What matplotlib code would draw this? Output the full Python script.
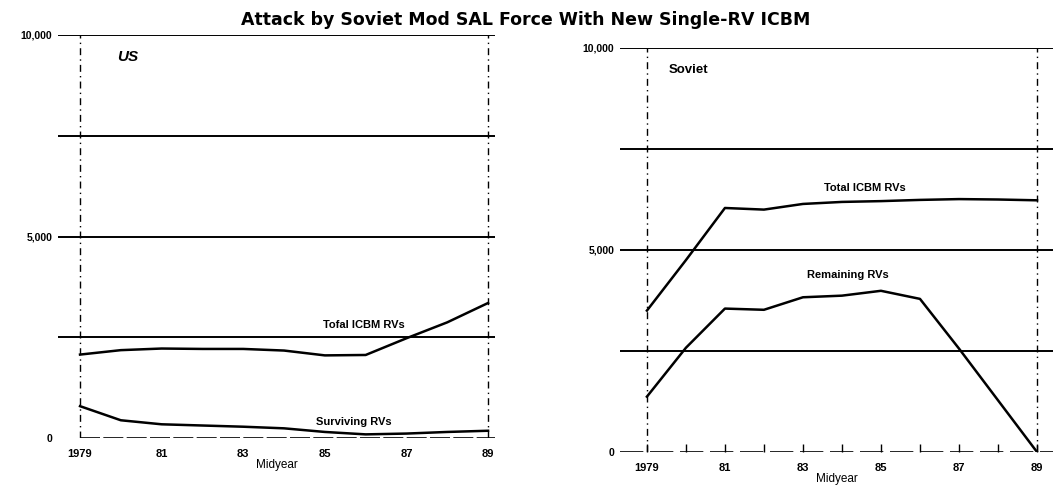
import matplotlib.pyplot as plt

plt.rcParams['font.family'] = ['Liberation Sans', 'DejaVu Sans']

# Data (values at midyear)
years = [1979, 1980, 1981, 1982, 1983, 1984, 1985, 1986, 1987, 1988, 1989]
us_total = [2070, 2180, 2220, 2210, 2210, 2170, 2050, 2060, 2475, 2870, 3350]
us_surviving = [790, 440, 340, 310, 280, 240, 150, 90, 110, 150, 180]
sov_total = [3500, 4750, 6040, 6000, 6140, 6190, 6210, 6240, 6260, 6250, 6230]
sov_remaining = [1370, 2580, 3550, 3520, 3830, 3870, 3990, 3790, 2560, 1280, 0]

tick_years = [1979, 1981, 1983, 1985, 1987, 1989]
tick_labels = ['1979', '81', '83', '85', '87', '89']
grid_vals = [2500, 5000, 7500, 10000]
ylabel_vals = [0, 5000, 10000]
ylabel_text = ['0', '5,000', '10,000']

fig = plt.figure(figsize=(10.53, 5.0), dpi=100)

ax_us = fig.add_axes([58 / 1053, 62 / 500, 437 / 1053, 403 / 500])
ax_sov = fig.add_axes([620 / 1053, 48 / 500, 433 / 1053, 404 / 500])


def style_panel(ax, xlim):
    ax.set_xlim(*xlim)
    ax.set_ylim(0, 10000)
    for s in ax.spines.values():
        s.set_visible(False)
    for g in grid_vals:
        ax.axhline(g, color='black', lw=1.4, zorder=1)
    ax.axvline(1979, color='black', lw=1.0, ls=(0, (5, 3, 1, 3)), zorder=1)
    ax.axvline(1989, color='black', lw=1.0, ls=(0, (5, 3, 1, 3)), zorder=1)
    ax.set_xticks(tick_years)
    ax.set_xticklabels(tick_labels, fontsize=8, fontweight='bold')
    ax.set_yticks(ylabel_vals)
    ax.set_yticklabels(ylabel_text, fontsize=7.5, fontweight='bold')
    ax.tick_params(axis='x', length=0, pad=8)
    ax.tick_params(axis='y', length=0, pad=4)
    ax.set_xlabel('Midyear', fontsize=8.5, labelpad=0)


# US panel
style_panel(ax_us, (1978.46, 1989.17))
ax_us.axhline(0, xmin=0.05, color='black', lw=1.2, ls=(0, (12, 2)), zorder=1)
ax_us.plot(years, us_total, color='black', lw=1.8, zorder=3)
ax_us.plot(years, us_surviving, color='black', lw=1.8, zorder=3)
ax_us.text(1985.95, 2800, 'Tofal ICBM RVs', fontsize=8, fontweight='bold',
           ha='center', va='center')
ax_us.text(1985.7, 400, 'Surviving RVs', fontsize=8, fontweight='bold',
           ha='center', va='center')
ax_us.text(1979.9, 9450, 'US', fontsize=11, fontweight='bold', style='italic',
           ha='left', va='center')

# Soviet panel
style_panel(ax_sov, (1978.31, 1989.41))
ax_sov.axhline(0, color='black', lw=1.2, ls=(0, (14, 4)), zorder=1)
ax_sov.set_xticks(years, minor=True)
ax_sov.tick_params(axis='x', which='both', length=6, direction='in',
                   width=1.0)
ax_sov.plot(years, sov_total, color='black', lw=1.8, zorder=3)
ax_sov.plot(years, sov_remaining, color='black', lw=1.8, zorder=3)
ax_sov.text(1984.6, 6530, 'Total ICBM RVs', fontsize=8, fontweight='bold',
            ha='center', va='center')
ax_sov.text(1984.15, 4380, 'Remaining RVs', fontsize=8, fontweight='bold',
            ha='center', va='center')
ax_sov.text(1979.55, 9450, 'Soviet', fontsize=9.5, fontweight='bold',
            ha='left', va='center')

fig.text(0.499, 0.96, 'Attack by Soviet Mod SAL Force With New Single-RV ICBM',
         fontsize=12.5, fontweight='bold', ha='center', va='center',
         family='DejaVu Sans')

fig.savefig('out.png', dpi=100)
